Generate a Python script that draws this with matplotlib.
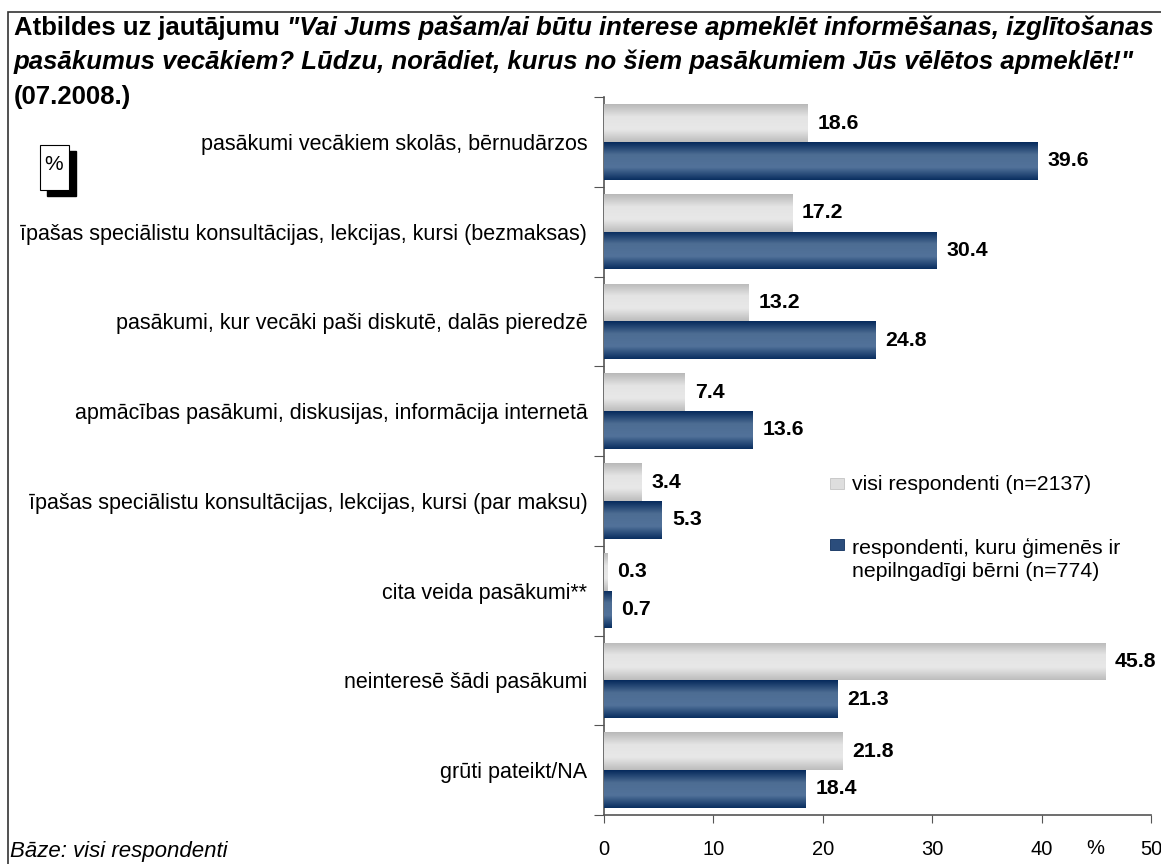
import numpy as np
import matplotlib
matplotlib.use("Agg")
import matplotlib.pyplot as plt
from matplotlib.colors import LinearSegmentedColormap
from matplotlib.patches import Rectangle

plt.rcParams['font.family'] = ['Liberation Sans', 'DejaVu Sans']

categories = [
    "pasākumi vecākiem skolās, bērnudārzos",
    "īpašas speciālistu konsultācijas, lekcijas, kursi (bezmaksas)",
    "pasākumi, kur vecāki paši diskutē, dalās pieredzē",
    "apmācības pasākumi, diskusijas, informācija internetā",
    "īpašas speciālistu konsultācijas, lekcijas, kursi (par maksu)",
    "cita veida pasākumi**",
    "neinteresē šādi pasākumi",
    "grūti pateikt/NA",
]
visi = [18.6, 17.2, 13.2, 7.4, 3.4, 0.3, 45.8, 21.8]
vecaki = [39.6, 30.4, 24.8, 13.6, 5.3, 0.7, 21.3, 18.4]
series_names = ["visi respondenti (n=2137)",
                "respondenti, kuru ģimenēs ir\nnepilngadīgi bērni (n=774)"]
xticks = [0, 10, 20, 30, 40, 50]

gray_cm = LinearSegmentedColormap.from_list("g", ["#b9b9b9", "#e4e4e4", "#e8e8e8", "#bdbdbd"])
blue_cm = LinearSegmentedColormap.from_list("b", ["#062a5c", "#4d6d93", "#52729a", "#0a2f60"])

W, H = 1161, 864
fig = plt.figure(figsize=(W / 100, H / 100), dpi=100)
ax = fig.add_axes([604 / W, 1 - 815 / H, 547 / W, 718 / H])

pos = np.arange(len(categories)) + 0.5
h = 0.42
b1 = ax.barh(pos - h / 2, visi, height=h, color="#d8d8d8", linewidth=0)
b2 = ax.barh(pos + h / 2, vecaki, height=h, color="#2f5280", linewidth=0)

# vertical gradient inside each bar
grad = np.linspace(0, 1, 64).reshape(-1, 1)
for bars, cm in [(b1, gray_cm), (b2, blue_cm)]:
    for p in bars:
        x0, y0, w, hh = p.get_x(), p.get_y(), p.get_width(), p.get_height()
        im = ax.imshow(grad, cmap=cm, aspect="auto", interpolation="bilinear",
                       extent=(x0, x0 + w, y0 + hh, y0), zorder=3)
        im.set_clip_path(p)

for i in range(len(categories)):
    ax.text(visi[i] + 0.9, pos[i] - h / 2, f"{visi[i]}", va="center", ha="left",
            fontsize=15.3, fontweight="bold")
    ax.text(vecaki[i] + 0.9, pos[i] + h / 2, f"{vecaki[i]}", va="center", ha="left",
            fontsize=15.3, fontweight="bold")

ax.set_xlim(0, 50)
ax.set_ylim(len(categories), 0)
ax.set_xticks(xticks)
ax.set_yticks(np.arange(len(categories) + 1))
ax.set_yticklabels([])
ax.set_yticks(pos, minor=True)
ax.set_yticklabels(categories, minor=True, fontsize=15.5)
ax.tick_params(axis="y", which="major", direction="out", length=7, color="#555555")
ax.tick_params(axis="y", which="minor", length=0, pad=12)
ax.tick_params(axis="x", direction="out", length=6, color="#555555", labelsize=14.5, pad=12)
for s in ["top", "right"]:
    ax.spines[s].set_visible(False)
for s in ["left", "bottom"]:
    ax.spines[s].set_color("#555555")
    ax.spines[s].set_linewidth(1.2)
ax.text(0.898, -0.046, "%", transform=ax.transAxes, ha="center", va="center", fontsize=14.5)

# legend drawn by hand
fig.patches.append(Rectangle((830 / W, 1 - 489 / H), 14 / W, 11 / H, transform=fig.transFigure,
                             facecolor="#dedede", edgecolor="#c4c4c4", linewidth=0.6))
fig.patches.append(Rectangle((830 / W, 1 - 550 / H), 14 / W, 11 / H, transform=fig.transFigure,
                             facecolor="#2b4d7c", edgecolor="#0f2f5e", linewidth=0.6))
fig.text(852 / W, 1 - 485 / H, series_names[0], fontsize=15.3, va="center", ha="left")
fig.text(852 / W, 1 - 537.5 / H, series_names[1], fontsize=15.3, va="top", ha="left",
         linespacing=1.29)

# title with mixed styles
r = fig.canvas.get_renderer()
t1 = fig.text(14 / W, 1 - 28 / H, "Atbildes uz jautājumu ", fontsize=18.5,
              fontweight="bold", va="center", ha="left")
bb = t1.get_window_extent(r)
fig.text(bb.x1 / W, 1 - 28 / H,
         "\"Vai Jums pašam/ai būtu interese apmeklēt informēšanas, izglītošanas",
         fontsize=18.5, fontweight="bold", style="italic", va="center", ha="left")
fig.text(14 / W, 1 - 62 / H,
         "pasākumus vecākiem? Lūdzu, norādiet, kurus no šiem pasākumiem Jūs vēlētos apmeklēt!\"",
         fontsize=18.5, fontweight="bold", style="italic", va="center", ha="left")
fig.text(14 / W, 1 - 97 / H, "(07.2008.)", fontsize=18.5, fontweight="bold",
         va="center", ha="left")

# % box with shadow
fig.patches.append(Rectangle((47 / W, 1 - 196 / H), 29 / W, 45 / H,
                             transform=fig.transFigure, facecolor="black", edgecolor="black"))
fig.patches.append(Rectangle((40 / W, 1 - 190 / H), 29 / W, 45 / H,
                             transform=fig.transFigure, facecolor="white", edgecolor="black",
                             linewidth=0.8))
fig.text(54 / W, 1 - 164 / H, "%", fontsize=15, ha="center", va="center")

fig.text(10 / W, 1 - 851 / H, "Bāze: visi respondenti", fontsize=16,
         style="italic", va="center", ha="left")

# outer frame (right and bottom edges fall outside the image)
fig.patches.append(Rectangle((8 / W, -0.1), 1.2, 1 - 12 / H + 0.1,
                             transform=fig.transFigure, facecolor="none",
                             edgecolor="#333333", linewidth=1.2))

fig.savefig("out.png", dpi=100)
